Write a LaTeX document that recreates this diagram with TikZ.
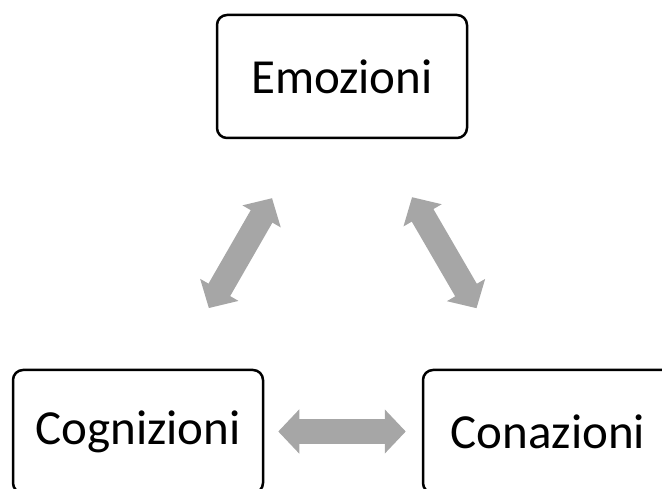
\documentclass[tikz,border=0pt]{standalone}
\usepackage{fontspec}
\setmainfont{Carlito}
\usetikzlibrary{arrows.meta, positioning}
\definecolor{arrowgray}{HTML}{A6A6A6}

\tikzset{
    box/.style={draw=black, line width=2.5pt, rounded corners=10pt, minimum width=250pt,
        minimum height=123pt, inner sep=0pt, font=\fontsize{49}{59}\selectfont},
    bigarrow/.style={draw=arrowgray, line width=25pt,
        {Triangle[length=21pt, width=43pt]}-{Triangle[length=21pt, width=43pt]}},
}

\begin{document}
\begin{tikzpicture}[x=1pt, y=1pt]
        \path[use as bounding box, clip] (0,0) rectangle (662,488);
        \node[box] (emo) at (342,411.5) {Emozioni};
        \node[box] (cog) at (138,56.5) {Cognizioni};
        \node[box] (con) at (548,56.5) {Conazioni};
        \draw[bigarrow, shorten <=68pt, shorten >=70pt] (emo) -- (cog);
        \draw[bigarrow, shorten <=67pt, shorten >=70pt] (emo) -- (con);
        \draw[bigarrow, shorten <=14pt, shorten >=16pt] (cog) -- (con);
    \end{tikzpicture}
\end{document}
